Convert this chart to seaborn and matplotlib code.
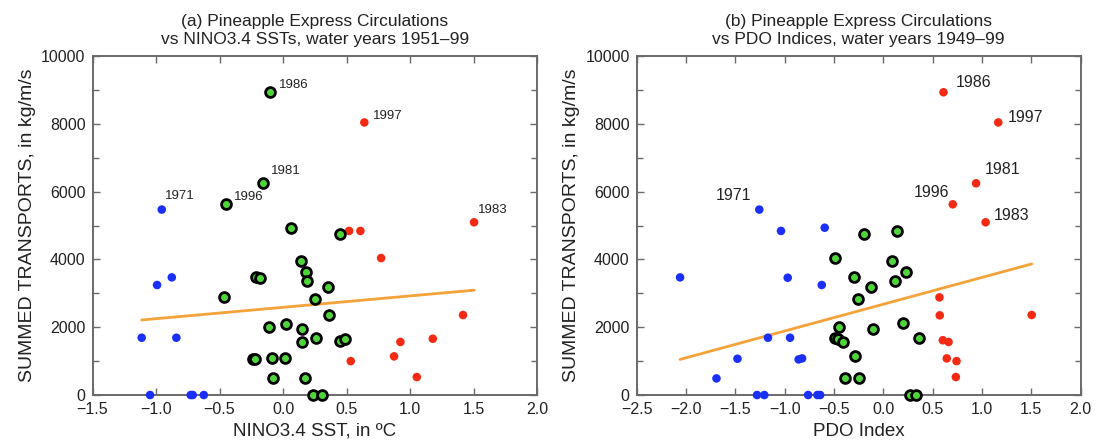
import matplotlib
matplotlib.use("Agg")
import matplotlib.pyplot as plt
from matplotlib.ticker import MultipleLocator, FuncFormatter
import numpy as np
import pandas as pd
import seaborn as sns

# ---------------------------------------------------------------------------
# Panel (a): seasonal Pineapple Express transports vs NINO3.4 SST, 1951-99
# ---------------------------------------------------------------------------
nino_cool_sst = [-0.955, -0.876, -0.992, -1.113, -0.840, -1.047, -0.727, -0.711, -0.624]
nino_cool_transport = [5470, 3470, 3245, 1690, 1690, 0, 0, 0, 0]

nino_neutral_sst = [-0.10, -0.157, -0.45, 0.06, 0.139, 0.181, 0.187, -0.213, -0.181,
                    -0.467, -0.113, 0.024, 0.152, 0.152, -0.24, -0.22, -0.084, 0.018,
                    -0.079, 0.171, 0.352, 0.254, 0.36, 0.26, 0.449, 0.486, 0.449,
                    0.239, 0.305]
nino_neutral_transport = [8930, 6245, 5625, 4935, 3940, 3640, 3360, 3470, 3460,
                          2890, 2005, 2105, 1940, 1575, 1060, 1070, 1080, 1090,
                          490, 500, 3180, 2840, 2350, 1690, 1590, 1640, 4760,
                          0, 0]

nino_warm_sst = [0.64, 1.504, 0.52, 0.609, 0.772, 1.417, 1.179, 0.924, 0.874, 0.533, 1.053]
nino_warm_transport = [8040, 5095, 4840, 4840, 4040, 2360, 1660, 1565, 1140, 1000, 530]

nino_years = ["1971", "1986", "1981", "1996", "1997", "1983"]
nino_year_sst = [-0.955, -0.10, -0.157, -0.45, 0.64, 1.504]
nino_year_transport = [5470, 8930, 6245, 5625, 8040, 5095]

# ---------------------------------------------------------------------------
# Panel (b): the same transports vs the PDO index, 1949-99
# ---------------------------------------------------------------------------
pdo_cool_index = [-1.257, -1.037, -0.594, -2.06, -0.969, -0.624, -1.169, -0.945,
                  -1.478, -0.858, -0.823, -1.691, -1.28, -1.206, -0.762, -0.668, -0.640]
pdo_cool_transport = [5470, 4840, 4935, 3470, 3460, 3245, 1690, 1690,
                      1070, 1050, 1080, 490, 0, 0, 0, 0, 0]

pdo_neutral_index = [-0.488, -0.447, -0.492, -0.461, -0.407, -0.393, -0.20, 0.135,
                     0.088, 0.227, 0.118, -0.302, -0.122, -0.258, -0.109, 0.203,
                     0.366, -0.292, -0.244, 0.27, 0.33]
pdo_neutral_transport = [4030, 2005, 1690, 1645, 1575, 500, 4760, 4840,
                         3940, 3640, 3360, 3470, 3180, 2840, 1940, 2115,
                         1670, 1140, 500, 0, 0]

pdo_warm_index = [0.61, 1.165, 0.94, 0.704, 1.037, 0.569, 0.572, 1.504,
                  0.603, 0.661, 0.643, 0.742, 0.735]
pdo_warm_transport = [8930, 8040, 6245, 5625, 5095, 2880, 2350, 2360,
                      1615, 1565, 1080, 1000, 530]

pdo_years = ["1971", "1986", "1997", "1981", "1996", "1983"]
pdo_year_index = [-1.257, 0.61, 1.165, 0.94, 0.704, 1.037]
pdo_year_transport = [5470, 8930, 8040, 6245, 5625, 5095]

# ---------------------------------------------------------------------------
BLUE = "#1a30f8"
RED = "#f42a14"
GREEN = "#4fd43c"
ORANGE = "#f4a23a"
AXIS_GREY = "#6a6a6a"
TEXT = "#222222"

sns.set_theme(style="ticks")
plt.rcParams["font.family"] = ["Liberation Sans", "DejaVu Sans"]
plt.rcParams["axes.edgecolor"] = AXIS_GREY


def build_frame(cool_x, cool_y, neu_x, neu_y, warm_x, warm_y):
    parts = [
        pd.DataFrame({"x": cool_x, "y": cool_y, "phase": "cool"}),
        pd.DataFrame({"x": neu_x, "y": neu_y, "phase": "neutral"}),
        pd.DataFrame({"x": warm_x, "y": warm_y, "phase": "warm"}),
    ]
    return pd.concat(parts, ignore_index=True)


def minus_fmt(v, _pos):
    return f"{v:.1f}".replace("-", "\u2212")


def draw_panel(ax, df, xlim, title, xlabel, years, yx, yy, offsets, label_size):
    sns.regplot(data=df, x="x", y="y", ax=ax, scatter=False, ci=None,
                truncate=True, line_kws=dict(color=ORANGE, lw=2.0, zorder=2))
    sns.scatterplot(data=df[df.phase == "cool"], x="x", y="y", ax=ax,
                    color=BLUE, s=38, edgecolor="none", zorder=3, clip_on=False)
    sns.scatterplot(data=df[df.phase == "warm"], x="x", y="y", ax=ax,
                    color=RED, s=38, edgecolor="none", zorder=3, clip_on=False)
    sns.scatterplot(data=df[df.phase == "neutral"], x="x", y="y", ax=ax,
                    color=GREEN, s=50, edgecolor="black", linewidth=2.0,
                    zorder=4, clip_on=False)

    for yr, px, py in zip(years, yx, yy):
        dx, dy, ha = offsets[yr]
        ax.annotate(yr, (px, py), xytext=(dx, dy), textcoords="offset points",
                    ha=ha, va="center", fontsize=label_size, color=TEXT)

    ax.set_xlim(*xlim)
    ax.set_ylim(0, 10000)
    ax.xaxis.set_major_locator(MultipleLocator(0.5))
    ax.xaxis.set_major_formatter(FuncFormatter(minus_fmt))
    ax.yaxis.set_major_locator(MultipleLocator(2000))
    ax.yaxis.set_minor_locator(MultipleLocator(1000))
    ax.tick_params(axis="both", which="both", direction="in", top=True,
                   right=True, colors=AXIS_GREY, labelcolor=TEXT,
                   labelsize=11.5, width=1.0)
    ax.tick_params(axis="x", which="major", length=5, pad=5)
    ax.tick_params(axis="y", which="major", length=5, pad=5)
    ax.tick_params(axis="both", which="minor", length=4)
    for sp in ax.spines.values():
        sp.set_linewidth(1.4)
        sp.set_color(AXIS_GREY)

    ax.set_xlabel(xlabel, fontsize=13.5, color=TEXT, labelpad=4)
    ax.set_ylabel("SUMMED TRANSPORTS, in kg/m/s", fontsize=14, color=TEXT,
                  labelpad=4)
    ax.set_title(title, fontsize=12.5, color=TEXT, linespacing=1.2, pad=9)


fig = plt.figure(figsize=(10.99, 4.42), dpi=100)
ax_a = fig.add_axes([0.0842, 0.1063, 0.4045, 0.767])
ax_b = fig.add_axes([0.5793, 0.1063, 0.4040, 0.767])

nino_df = build_frame(nino_cool_sst, nino_cool_transport,
                      nino_neutral_sst, nino_neutral_transport,
                      nino_warm_sst, nino_warm_transport)
pdo_df = build_frame(pdo_cool_index, pdo_cool_transport,
                     pdo_neutral_index, pdo_neutral_transport,
                     pdo_warm_index, pdo_warm_transport)

nino_offsets = {"1971": (2.5, 9.5, "left"), "1986": (6, 5, "left"),
                "1981": (5.5, 8.5, "left"), "1996": (6, 5.5, "left"),
                "1997": (6, 4.5, "left"), "1983": (2.5, 8.5, "left")}
pdo_offsets = {"1971": (-6, 10, "right"), "1986": (8.5, 7, "left"),
               "1997": (7, 3.5, "left"), "1981": (6.5, 10, "left"),
               "1996": (-2.5, 8.5, "right"), "1983": (5.5, 5, "left")}

draw_panel(ax_a, nino_df, (-1.5, 2.0),
           "(a) Pineapple Express Circulations\nvs NINO3.4 SSTs, water years 1951\u201399",
           "NINO3.4 SST, in \u00baC", nino_years, nino_year_sst, nino_year_transport,
           nino_offsets, 9.5)
draw_panel(ax_b, pdo_df, (-2.5, 2.0),
           "(b) Pineapple Express Circulations\nvs PDO Indices, water years 1949\u201399",
           "PDO Index", pdo_years, pdo_year_index, pdo_year_transport,
           pdo_offsets, 11.5)

fig.savefig("out.png", dpi=100, facecolor="white")
